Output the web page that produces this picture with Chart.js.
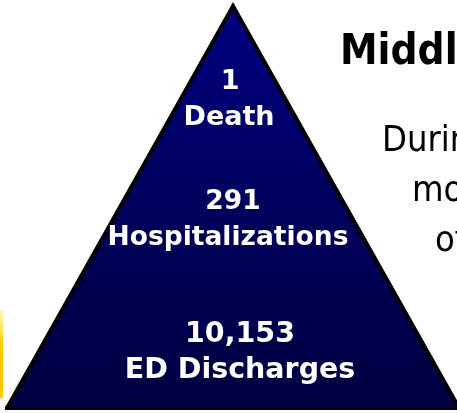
<!DOCTYPE html>
<html>
<head>
<meta charset="utf-8">
<script src="https://cdn.jsdelivr.net/npm/chart.js@4.4.1/dist/chart.umd.min.js"></script>
<style>
  html, body { margin: 0; padding: 0; background: #fff; }
  #wrap { width: 457px; height: 413px; position: relative; }
</style>
</head>
<body>
<div id="wrap"><canvas id="pyramid"></canvas></div>
<script>
// tiers from top to bottom of the pyramid
const levels = ['Death', 'Hospitalizations', 'ED Discharges'];
const counts = [1, 291, 10153];
// outline of the pyramid: left base corner, apex, right base corner
const outlineX = [-1, 0, 1];
const outlineY = [0, 1, 0];
// text on the right of the slide (cut off by the frame)
const sideTitle = 'Middle';
const sideLines = ['During', 'months', 'of'];

const outline = outlineX.map((x, i) => ({ x: x, y: outlineY[i] }));
const base = [outline[0], outline[2]];

const labelsPlugin = {
  id: 'tierLabels',
  beforeDraw(chart) {
    const c = chart.ctx;
    // yellow strip at the left edge
    const g = c.createLinearGradient(0, 310, 0, 398);
    g.addColorStop(0, '#fff6c0');
    g.addColorStop(0.4, '#ffd200');
    g.addColorStop(1, '#ffc800');
    c.save();
    c.fillStyle = g;
    c.fillRect(0, 310, 3, 88);
    c.restore();
  },
  afterDatasetsDraw(chart) {
    const c = chart.ctx;
    const xs = chart.scales.x, ys = chart.scales.y;
    const cx = xs.getPixelForValue(0);
    const tierPos = [0.794, 0.495, 0.164];
    const valShift = [-3, 0, 7];
    const nameShift = [-4, -5, 7];
    const sizes = [27, 26.5, 28.5];
    c.save();
    c.fillStyle = '#ffffff';
    c.textAlign = 'center';
    c.textBaseline = 'alphabetic';
    levels.forEach((name, i) => {
      const y = ys.getPixelForValue(tierPos[i]);
      c.font = 'bold ' + sizes[i] + 'px "DejaVu Sans"';
      c.fillText(counts[i].toLocaleString('en-US'), cx + valShift[i], y);
      c.fillText(name, cx + nameShift[i], y + 36);
    });
    // side text
    c.fillStyle = '#000000';
    c.textAlign = 'left';
    c.font = 'bold 42px "DejaVu Sans Condensed"';
    c.fillText(sideTitle, 340, 64);
    c.font = '36px "DejaVu Sans Condensed"';
    const lx = [382, 412, 435];
    sideLines.forEach((t, i) => c.fillText(t, lx[i], 151 + i * 50));
    c.restore();
  }
};

new Chart(document.getElementById('pyramid'), {
  type: 'scatter',
  data: {
    datasets: [{
      data: outline,
      showLine: true,
      fill: 'origin',
      tension: 0,
      borderColor: '#000000',
      borderWidth: 4,
      borderJoinStyle: 'miter',
      pointRadius: 0,
      backgroundColor: (ctx) => {
        const area = ctx.chart.chartArea;
        if (!area) return '#000066';
        const g = ctx.chart.ctx.createLinearGradient(0, area.top, 0, area.bottom);
        g.addColorStop(0, '#000082');
        g.addColorStop(0.5, '#00005c');
        g.addColorStop(1, '#000040');
        return g;
      }
    }, {
      data: base,
      showLine: true,
      fill: false,
      borderColor: '#000000',
      borderWidth: 4,
      borderCapStyle: 'square',
      pointRadius: 0
    }]
  },
  options: {
    responsive: true,
    maintainAspectRatio: false,
    animation: false,
    layout: { padding: 0 },
    scales: {
      x: { type: 'linear', min: -1.031, max: 0.991, display: false },
      y: { type: 'linear', min: -0.0124, max: 1.0149, display: false }
    },
    plugins: {
      legend: { display: false },
      tooltip: { enabled: false }
    }
  },
  plugins: [labelsPlugin]
});
</script>
</body>
</html>
